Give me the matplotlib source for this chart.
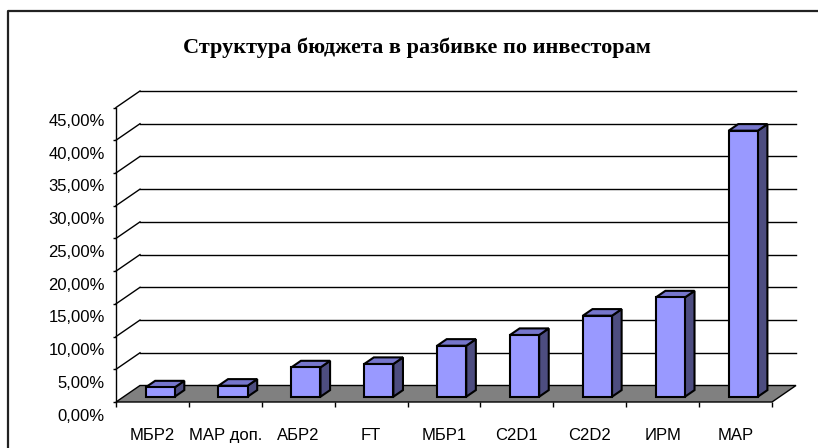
# -*- coding: utf-8 -*-
"""
Budget structure by investor - Excel style 3D column chart
"""
import matplotlib
matplotlib.use("Agg")
import matplotlib.pyplot as plt
from matplotlib.patches import Polygon
from matplotlib.lines import Line2D
import matplotlib.transforms as mtransforms
import numpy as np

########################### Data #############################
categories = ["МБР2", "МАР доп.", "АБР2", "FT", "МБР1", "C2D1", "C2D2", "ИРМ", "МАР"]
shares = [1.42, 1.68, 4.48, 5.0, 7.79, 9.43, 12.38, 15.17, 40.65]   # in %
yticks = [0, 5, 10, 15, 20, 25, 30, 35, 40, 45]
title = "Структура бюджета в разбивке по инвесторам"

########################### Style #############################
W, H = 818, 448
front_col = "#9999FF"
side_col = "#4D4D80"
top_col = "#7676CC"
floor_col = "#808080"

# depth of the floor (oblique projection) in data units
D_dx = 24 / 72.9      # categories
D_dy = 16.5 / 6.544   # percent
front_frac = 0.32     # bar front plane inside the depth
bar_frac = 0.40       # bar depth as part of floor depth
bar_w = 0.40          # bar width in category units

plt.rcParams['font.family'] = ['Liberation Sans', 'DejaVu Sans']

fig = plt.figure(figsize=(W / 100, H / 100), dpi=100)
ax = fig.add_axes([116 / W, (H - 402) / H, (772 - 116) / W, (402 - 107.5) / H])
n = len(categories)
ax.set_xlim(0, n)
ax.set_ylim(0, 45)
for s in ["top", "right"]:
    ax.spines[s].set_visible(False)
ax.spines["left"].set_linewidth(1.0)
ax.spines["bottom"].set_visible(False)
ax.patch.set_alpha(0)

# x ticks: boundaries as minor ticks, labels at centres
ax.set_xticks(np.arange(n + 1), minor=True)
ax.set_xticks(np.arange(n) + 0.5)
ax.set_xticklabels(categories, fontsize=12)
ax.tick_params(axis="x", which="major", length=0, pad=19)
ax.tick_params(axis="x", which="minor", length=3.5, width=1.0, direction="out")

# y ticks with Excel style labels a bit below the tick
ax.set_yticks(yticks)
ax.set_yticklabels([])
ax.tick_params(axis="y", length=2.5, width=1.0, direction="out")
off = mtransforms.offset_copy(ax.get_yaxis_transform(), fig=fig, x=-11, y=-14, units="dots")
for v in yticks:
    ax.text(0, v, ("%.2f%%" % v).replace(".", ","), transform=off,
            ha="right", va="center", fontsize=12)

# walls: grid lines at the back and diagonals on the left
for v in yticks[1:]:
    ax.plot([0, D_dx], [v, v + D_dy], color="black", lw=1.0, clip_on=False, zorder=1)
    ax.plot([D_dx, n + D_dx], [v + D_dy, v + D_dy], color="black", lw=1.0, clip_on=False, zorder=1)

# floor
floor = Polygon([(0, 0), (n, 0), (n + D_dx, D_dy), (D_dx, D_dy)], closed=True,
                facecolor=floor_col, edgecolor="black", lw=1.0, clip_on=False, zorder=2)
ax.add_patch(floor)

# bars
bdx = D_dx * bar_frac
bdy = D_dy * bar_frac
for i, v in enumerate(shares):
    x0 = i + (1 - bar_w) / 2 + front_frac * D_dx
    yb = front_frac * D_dy
    x1 = x0 + bar_w
    kw = dict(closed=True, edgecolor="black", lw=1.5, clip_on=False, zorder=3, joinstyle="miter")
    ax.add_patch(Polygon([(x1, yb), (x1 + bdx, yb + bdy), (x1 + bdx, yb + bdy + v), (x1, yb + v)],
                         facecolor=side_col, **kw))
    ax.add_patch(Polygon([(x0, yb + v), (x1, yb + v), (x1 + bdx, yb + v + bdy), (x0 + bdx, yb + v + bdy)],
                         facecolor=top_col, **kw))
    ax.add_patch(Polygon([(x0, yb), (x1, yb), (x1, yb + v), (x0, yb + v)],
                         facecolor=front_col, **kw))

# title
fig.text(417 / W, 1 - 53.5 / H, title, ha="center", va="baseline", fontsize=16,
         fontweight="bold", family=["Liberation Serif", "DejaVu Serif"])

# chart area frame (left and top edges visible)
fig.add_artist(Line2D([8 / W, 8 / W, 1.0], [0.0, 1 - 11 / H, 1 - 11 / H],
                      transform=fig.transFigure, color="#222222", lw=1.6))

plt.savefig("out.png", dpi=100, facecolor="w")
